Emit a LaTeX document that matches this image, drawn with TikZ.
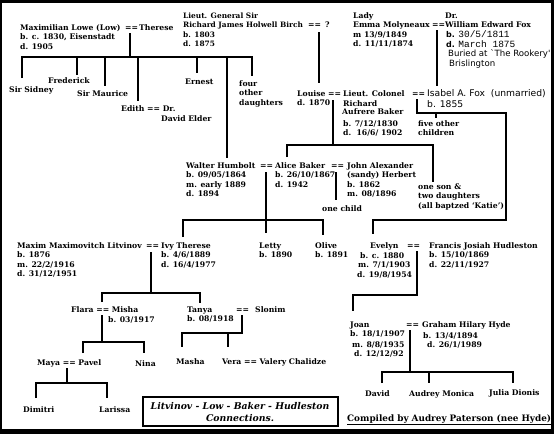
\documentclass[tikz,border=0pt]{standalone}
\usepackage{fontspec}
\setmainfont{DejaVu Serif}
\newfontfamily\foxfont{DejaVu Sans}
\newfontfamily\foxmono{Liberation Mono}
\newcommand\blk[4]{\node[txt] (#1) at (#2,#3) {\begin{tabular}[t]{@{}l@{}}#4\end{tabular}};}
\begin{document}
\begin{tikzpicture}[x=1pt,y=-1pt,
  txt/.style={inner sep=0pt, anchor=base west, font=\fontsize{7.7}{9.6}\selectfont\bfseries},
  fox/.style={inner sep=0pt, anchor=base west, font=\fontsize{9.2}{11}\selectfont\foxfont},
  link/.style={line width=1.7pt}]
\useasboundingbox (0,0) rectangle (554,434);
\fill[black] (0,0) rectangle (554,434);
\fill[white] (2,3) rectangle (551,429);

% ---- Lowe generation
\blk{lowe}{20}{30}{Maximilian Lowe (Low)\\ b. c. 1830, Eisenstadt\\ d. 1905}
\blk{eqlowe}{125}{30}{==}
\blk{therese}{139}{30}{Therese}
\node[txt, font=\fontsize{7.4}{9.6}\selectfont\bfseries] (birch) at (183,18) {\begin{tabular}[t]{@{}l@{}}Lieut. General Sir\\ Richard James Holwell Birch\\ b. 1803\\ d. 1875\end{tabular}};
\blk{eqbirch}{308}{27.6}{==}
\blk{birchq}{325}{27.6}{?}
\blk{lady}{353}{18}{Lady\\ Emma Molyneaux\\ m 13/9/1849\\ d. 11/11/1874}
\blk{eqfoxp}{432}{27.6}{==}
\blk{fox}{445}{18}{Dr.\\ William Edward Fox}
\node[fox] (foxb) at (446,37) {\fontsize{8}{9}\selectfont\textbf{b.} \foxmono\fontsize{9.5}{10}\selectfont 30/5/1811};
\node[fox] (foxd) at (446,47) {\fontsize{8}{9}\selectfont\textbf{d.} \foxmono\fontsize{9.5}{10}\selectfont March 1875};
\node[fox, font=\fontsize{8.6}{10}\selectfont\foxfont] (foxbur) at (448,56) {Buried at `The Rookery'};
\node[fox, font=\fontsize{8.6}{10}\selectfont\foxfont] (foxbri) at (449,66) {Brislington};

% ---- Lowe children
\blk{sidney}{9}{92}{Sir Sidney}
\blk{fred}{48}{83}{Frederick}
\blk{maurice}{77}{96}{Sir Maurice}
\blk{edith}{121}{111}{Edith == Dr.}
\blk{elder}{161}{121}{David Elder}
\blk{ernest}{185}{84}{Ernest}
\blk{four}{239}{86}{four\\ other\\ daughters}

% ---- Louise / Baker / Isabel
\blk{louise}{297}{96}{Louise\\ d. 1870}
\blk{eqlb}{328}{96}{==}
\blk{baker}{343}{96}{Lieut. Colonel}
\blk{rich}{343}{106}{Richard}
\blk{aufr}{342}{114}{Aufrere Baker}
\blk{bakerb}{343}{126}{b. 7/12/1830}
\blk{bakerd}{343}{135}{d.\ \ 16/6/ 1902}
\blk{eqfox}{412}{96}{==}
\node[fox] (isabel) at (427,96) {Isabel A. Fox\ \ (unmarried)};
\node[fox] (isabelb) at (427,107) {b. 1855};
\blk{five}{418}{126}{five other\\ children}
\blk{oneson}{418}{189}{one son \&\\ two daughters\\ (all baptzed `Katie')}

% ---- Walter / Alice / John
\blk{walter}{186}{168}{Walter Humbolt\\ b. 09/05/1864\\ m. early 1889\\ d. 1894}
\blk{eqwa}{260}{168}{==}
\blk{alice}{275}{168}{Alice Baker\\ b. 26/10/1867\\ d. 1942}
\blk{eqaj}{331}{168}{==}
\blk{john}{347}{168}{John Alexander\\ (sandy) Herbert\\ b. 1862\\ m. 08/1896}
\blk{onechild}{322}{211}{one child}

% ---- Litvinov / Ivy
\blk{maxim}{17}{248}{Maxim Maximovitch Litvinov\\ b. 1876\\ m. 22/2/1916\\ d. 31/12/1951}
\blk{eqml}{146}{248}{==}
\blk{ivy}{161}{248}{Ivy Therese\\ b. 4/6/1889\\ d. 16/4/1977}
\blk{letty}{259}{248}{Letty\\ b. 1890}
\blk{olive}{315}{248}{Olive\\ b. 1891}

% ---- Evelyn / Francis
\blk{evelyn}{370}{248}{Evelyn}
\blk{evb}{360}{258}{b. c. 1880}
\blk{evm}{358}{267}{m. 7/1/1903}
\blk{evd}{357}{277}{d. 19/8/1954}
\blk{eqef}{407}{248}{==}
\blk{francis}{429}{248}{Francis Josiah Hudleston\\ b. 15/10/1869\\ d. 22/11/1927}

% ---- next generations
\blk{flara}{71}{312}{Flara == Misha}
\blk{misha}{108}{322}{b. 03/1917}
\blk{tanya}{187}{312}{Tanya\\ b. 08/1918}
\blk{eqts}{236}{312}{==}
\blk{slonim}{255}{312}{Slonim}
\blk{maya}{37}{365}{Maya == Pavel}
\blk{nina}{135}{366}{Nina}
\blk{masha}{176}{364}{Masha}
\blk{vera}{222}{364}{Vera == Valery Chalidze}
\blk{dimitri}{23}{412}{Dimitri}
\blk{larissa}{99}{412}{Larissa}

% ---- Joan / Graham
\blk{joan}{350}{327}{Joan\\ b. 18/1/1907}
\blk{joanm}{352}{347}{m. 8/8/1935}
\blk{joand}{354}{356}{d. 12/12/92}
\blk{eqjg}{406}{327}{==}
\blk{graham}{422}{327}{Graham Hilary Hyde}
\blk{grahamb}{423}{338}{b. 13/4/1894}
\blk{grahamd}{427}{347}{d. 26/1/1989}
\blk{david}{365}{396}{David}
\blk{audrey}{409}{396}{Audrey Monica}
\blk{julia}{489}{395}{Julia Dionis}

% ---- title and credit
\node[draw, line width=1.6pt, minimum width=195pt, minimum height=29pt, inner sep=0pt] (titlebox) at (240.5,411.5) {};
\node[inner sep=0pt, anchor=base, font=\fontsize{9.3}{11}\selectfont\bfseries\itshape] (title1) at (240,409.5) {Litvinov - Low - Baker - Hudleston};
\node[inner sep=0pt, anchor=base, font=\fontsize{9.3}{11}\selectfont\bfseries\itshape] (title2) at (240,421) {Connections.};
\node[inner sep=0pt, anchor=base west, font=\fontsize{8.85}{10}\selectfont\bfseries] (credit) at (347,421) {\underline{Compiled by Audrey Paterson (nee Hyde)}};

% ---- connectors
\draw[link] (130,33) -- (130,57);
\draw[link] (22,78) -- (22,57) -- (252,57) -- (252,76);
\draw[link] (77,57) -- (77,75);
\draw[link] (105,57) -- (105,86);
\draw[link] (138,57) -- (138,101);
\draw[link] (197,57) -- (197,73);
\draw[link] (227,57) -- (227,158);
\draw[link] (319,32) -- (319,83);
\draw[link] (437,30) -- (437,86);
\draw[link] (417,99) -- (417,113) -- (506,113) -- (506,220) -- (373,220) -- (373,234);
\draw[link] (436,113) -- (436,118);
\draw[link] (333,100) -- (333,145);
\draw[link] (287,157) -- (287,145) -- (433,145) -- (433,182);
\draw[link] (266,172) -- (266,233);
\draw[link] (183,237) -- (183,220) -- (323,220) -- (323,235);
\draw[link] (336,172) -- (336,200);
\draw[link] (417,251) -- (417,295) -- (353,295) -- (353,311);
\draw[link] (151,252) -- (151,293);
\draw[link] (102,302) -- (102,293) -- (200,293) -- (200,303);
\draw[link] (102,315) -- (102,342);
\draw[link] (83,353) -- (83,342) -- (144,342) -- (144,353);
\draw[link] (67,368) -- (67,383);
\draw[link] (36,398) -- (36,383) -- (107,383) -- (107,398);
\draw[link] (242,315) -- (242,333) -- (182,333) -- (182,347);
\draw[link] (228,333) -- (228,347);
\draw[link] (410,330) -- (410,372);
\draw[link] (382,383) -- (382,372) -- (513,372) -- (513,383);
\draw[link] (429,372) -- (429,383);
\end{tikzpicture}
\end{document}
